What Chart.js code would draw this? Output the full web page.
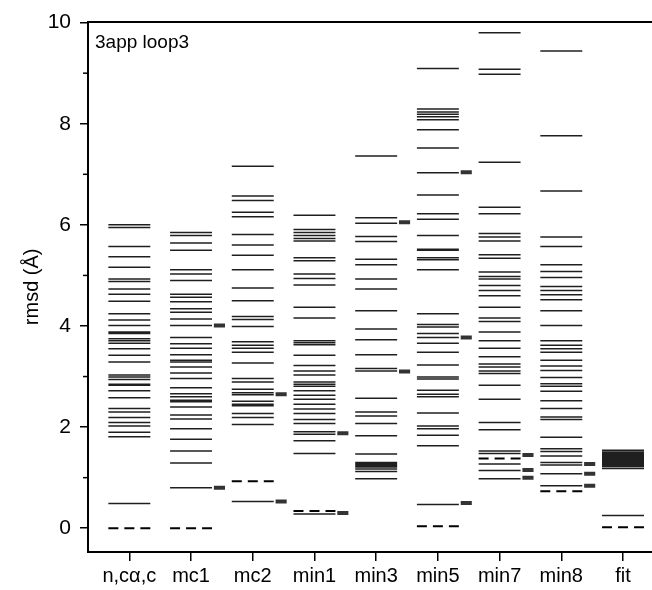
<!DOCTYPE html>
<html>
<head>
<meta charset="utf-8">
<script src="https://cdn.jsdelivr.net/npm/chart.js@4.4.1/dist/chart.umd.min.js"></script>
<style>
  html, body { margin: 0; padding: 0; background: #fff; }
  #wrap { width: 652px; height: 590px; }
</style>
</head>
<body>
<div id="wrap"><canvas id="grafico"></canvas></div>
<script>
// Categorías del eje X
const categories = ['n,cα,c', 'mc1', 'mc2', 'min1', 'min3', 'min5', 'min7', 'min8', 'fit'];

// Etiquetas del eje Y
const yTicks = [0, 2, 4, 6, 8, 10];
const yMinorTicks = [1, 3, 5, 7, 9];

// Valores rmsd (Å) de cada modelo, por categoría
const ncac = [6.00, 5.95, 5.57, 5.37, 5.16, 4.93, 4.88, 4.73, 4.63, 4.49, 4.24, 4.12, 4.01, 3.88, 3.85, 3.75, 3.71, 3.66, 3.55, 3.42, 3.29, 3.03, 2.99, 2.94, 2.85, 2.83, 2.72, 2.58, 2.37, 2.30, 2.19, 2.09, 2.02, 1.90, 1.81, 0.49];
const mc1 = [5.85, 5.79, 5.64, 5.50, 5.11, 5.03, 4.90, 4.63, 4.57, 4.48, 4.34, 4.27, 4.14, 4.01, 3.77, 3.65, 3.56, 3.43, 3.32, 3.29, 3.19, 3.07, 2.96, 2.78, 2.66, 2.60, 2.53, 2.50, 2.40, 2.24, 2.16, 1.97, 1.76, 1.53, 1.29, 0.80];
const mc2 = [7.16, 6.57, 6.48, 6.25, 6.16, 5.81, 5.60, 5.40, 5.11, 4.75, 4.50, 4.19, 4.13, 3.99, 3.69, 3.62, 3.56, 3.48, 3.27, 2.96, 2.89, 2.75, 2.68, 2.64, 2.51, 2.45, 2.42, 2.27, 2.19, 2.05, 0.53];
const min1 = [6.19, 5.91, 5.85, 5.79, 5.73, 5.68, 5.35, 5.29, 5.03, 4.94, 4.81, 4.37, 4.16, 3.71, 3.67, 3.63, 3.42, 3.22, 3.11, 3.03, 2.89, 2.85, 2.81, 2.72, 2.63, 2.55, 2.45, 2.36, 2.27, 2.15, 2.07, 1.91, 1.86, 1.73, 1.48, 0.28];
const min3 = [7.36, 6.14, 6.03, 5.77, 5.67, 5.32, 5.21, 4.93, 4.73, 4.30, 3.94, 3.73, 3.43, 3.16, 3.11, 2.57, 2.30, 2.22, 2.07, 1.83, 1.47, 1.30, 1.27, 1.24, 1.21, 1.17, 1.12, 0.98];
const min5 = [9.09, 8.29, 8.23, 8.19, 8.14, 8.08, 7.88, 7.52, 7.03, 6.59, 6.22, 6.11, 5.79, 5.52, 5.50, 5.35, 5.31, 5.11, 4.24, 4.03, 3.98, 3.85, 3.77, 3.66, 3.48, 3.23, 2.99, 2.95, 2.73, 2.65, 2.60, 2.28, 2.02, 1.97, 1.84, 1.63, 0.47];
const min7 = [9.80, 9.08, 8.98, 7.24, 6.35, 6.22, 5.83, 5.76, 5.68, 5.41, 5.34, 5.07, 4.98, 4.93, 4.80, 4.70, 4.60, 4.37, 4.16, 4.09, 3.88, 3.71, 3.56, 3.39, 3.25, 3.19, 3.11, 3.06, 2.83, 2.55, 2.09, 1.95, 1.53, 1.48, 1.27, 1.14, 0.98];
const min8 = [9.44, 7.76, 6.67, 5.76, 5.57, 5.21, 5.08, 4.96, 4.78, 4.70, 4.62, 4.52, 4.30, 4.01, 3.71, 3.62, 3.55, 3.48, 3.32, 3.21, 3.12, 2.98, 2.86, 2.81, 2.71, 2.52, 2.37, 2.20, 2.15, 1.80, 1.57, 1.52, 1.43, 1.30, 1.25, 1.08, 0.84];
const fit = [1.54, 1.51, 1.49, 1.46, 1.43, 1.41, 1.38, 1.35, 1.33, 1.30, 1.27, 1.25, 1.22, 1.18, 0.25];
const lineValues = [ncac, mc1, mc2, min1, min3, min5, min7, min8, fit];

// Línea discontinua (valor mínimo) por categoría
const dashedValues = [[0.00], [0.00], [0.93], [0.34], [], [0.04], [1.38], [0.73], [0.02]];

// Pequeñas marcas a la derecha de cada columna
const markerValues = [[], [4.01, 0.80], [2.65, 0.53], [1.88, 0.30], [6.05, 3.10], [7.04, 3.77, 0.50], [1.45, 1.15, 1.00], [1.27, 1.08, 0.84], []];

// Convierte listas de valores en segmentos horizontales separados por huecos
function segmentos(listas, desde, hasta) {
    const pts = [];
    listas.forEach((vals, i) => {
        vals.forEach(v => {
            pts.push({ x: i + desde, y: v });
            pts.push({ x: i + hasta, y: v });
            pts.push({ x: i + hasta, y: null });
        });
    });
    return pts;
}

const fuente = 'Liberation Sans, Arial, Helvetica, sans-serif';

// Marcas menores del eje Y y texto interior
const extras = {
    id: 'extras',
    afterDraw(chart) {
        const { ctx, chartArea, scales } = chart;
        ctx.save();
        ctx.strokeStyle = '#000';
        ctx.lineWidth = 1.5;
        yMinorTicks.forEach(v => {
            const y = scales.y.getPixelForValue(v);
            ctx.beginPath();
            ctx.moveTo(chartArea.left - 5, y);
            ctx.lineTo(chartArea.left, y);
            ctx.stroke();
        });
        ctx.fillStyle = '#000';
        ctx.font = '19px ' + fuente;
        ctx.textBaseline = 'alphabetic';
        ctx.fillText('3app loop3', chartArea.left + 7, chartArea.top + 26);
        ctx.restore();
    }
};

new Chart(document.getElementById('grafico'), {
    type: 'line',
    data: {
        datasets: [
            {
                data: segmentos(lineValues, -0.34, 0.34),
                borderColor: 'rgba(0,0,0,0.88)',
                borderWidth: 1.5,
                pointRadius: 0,
                spanGaps: false
            },
            {
                data: segmentos(dashedValues, -0.34, 0.34),
                borderColor: '#000',
                borderWidth: 2,
                borderDash: [10, 6],
                pointRadius: 0,
                spanGaps: false
            },
            {
                data: segmentos(markerValues, 0.37, 0.55),
                borderColor: 'rgba(0,0,0,0.8)',
                borderWidth: 4,
                pointRadius: 0,
                spanGaps: false
            }
        ]
    },
    options: {
        responsive: true,
        maintainAspectRatio: false,
        animation: false,
        layout: { padding: { top: 20, left: 20, right: 0, bottom: 0 } },
        plugins: { legend: { display: false }, tooltip: { enabled: false } },
        scales: {
            x: {
                type: 'linear',
                position: 'bottom',
                min: -0.67,
                max: 8.47,
                afterBuildTicks: s => { s.ticks = categories.map((c, i) => ({ value: i })); },
                afterFit: s => { s.height = 38; },
                grid: { drawOnChartArea: false, tickLength: 9, color: '#000', lineWidth: 1.5 },
                border: { color: '#000', width: 2 },
                ticks: {
                    color: '#000',
                    font: { family: fuente, size: 20 },
                    padding: 3,
                    maxRotation: 0,
                    autoSkip: false,
                    callback: v => categories[v]
                }
            },
            x2: {
                type: 'linear',
                position: 'top',
                min: -0.67,
                max: 8.47,
                afterFit: s => { s.height = 0; },
                grid: { display: false, drawTicks: false },
                border: { color: '#000', width: 2 },
                ticks: { display: false }
            },
            y: {
                min: -0.47,
                max: 10.02,
                afterBuildTicks: s => { s.ticks = yTicks.map(v => ({ value: v })); },
                afterFit: s => { s.width = 68; },
                grid: { drawOnChartArea: false, tickLength: 8, color: '#000', lineWidth: 1.5 },
                border: { color: '#000', width: 2 },
                ticks: { color: '#000', font: { family: fuente, size: 21 }, padding: 9 },
                title: { display: true, text: 'rmsd (Å)', color: '#000', font: { family: fuente, size: 20 }, padding: 0 }
            }
        }
    },
    plugins: [extras]
});
</script>
</body>
</html>
